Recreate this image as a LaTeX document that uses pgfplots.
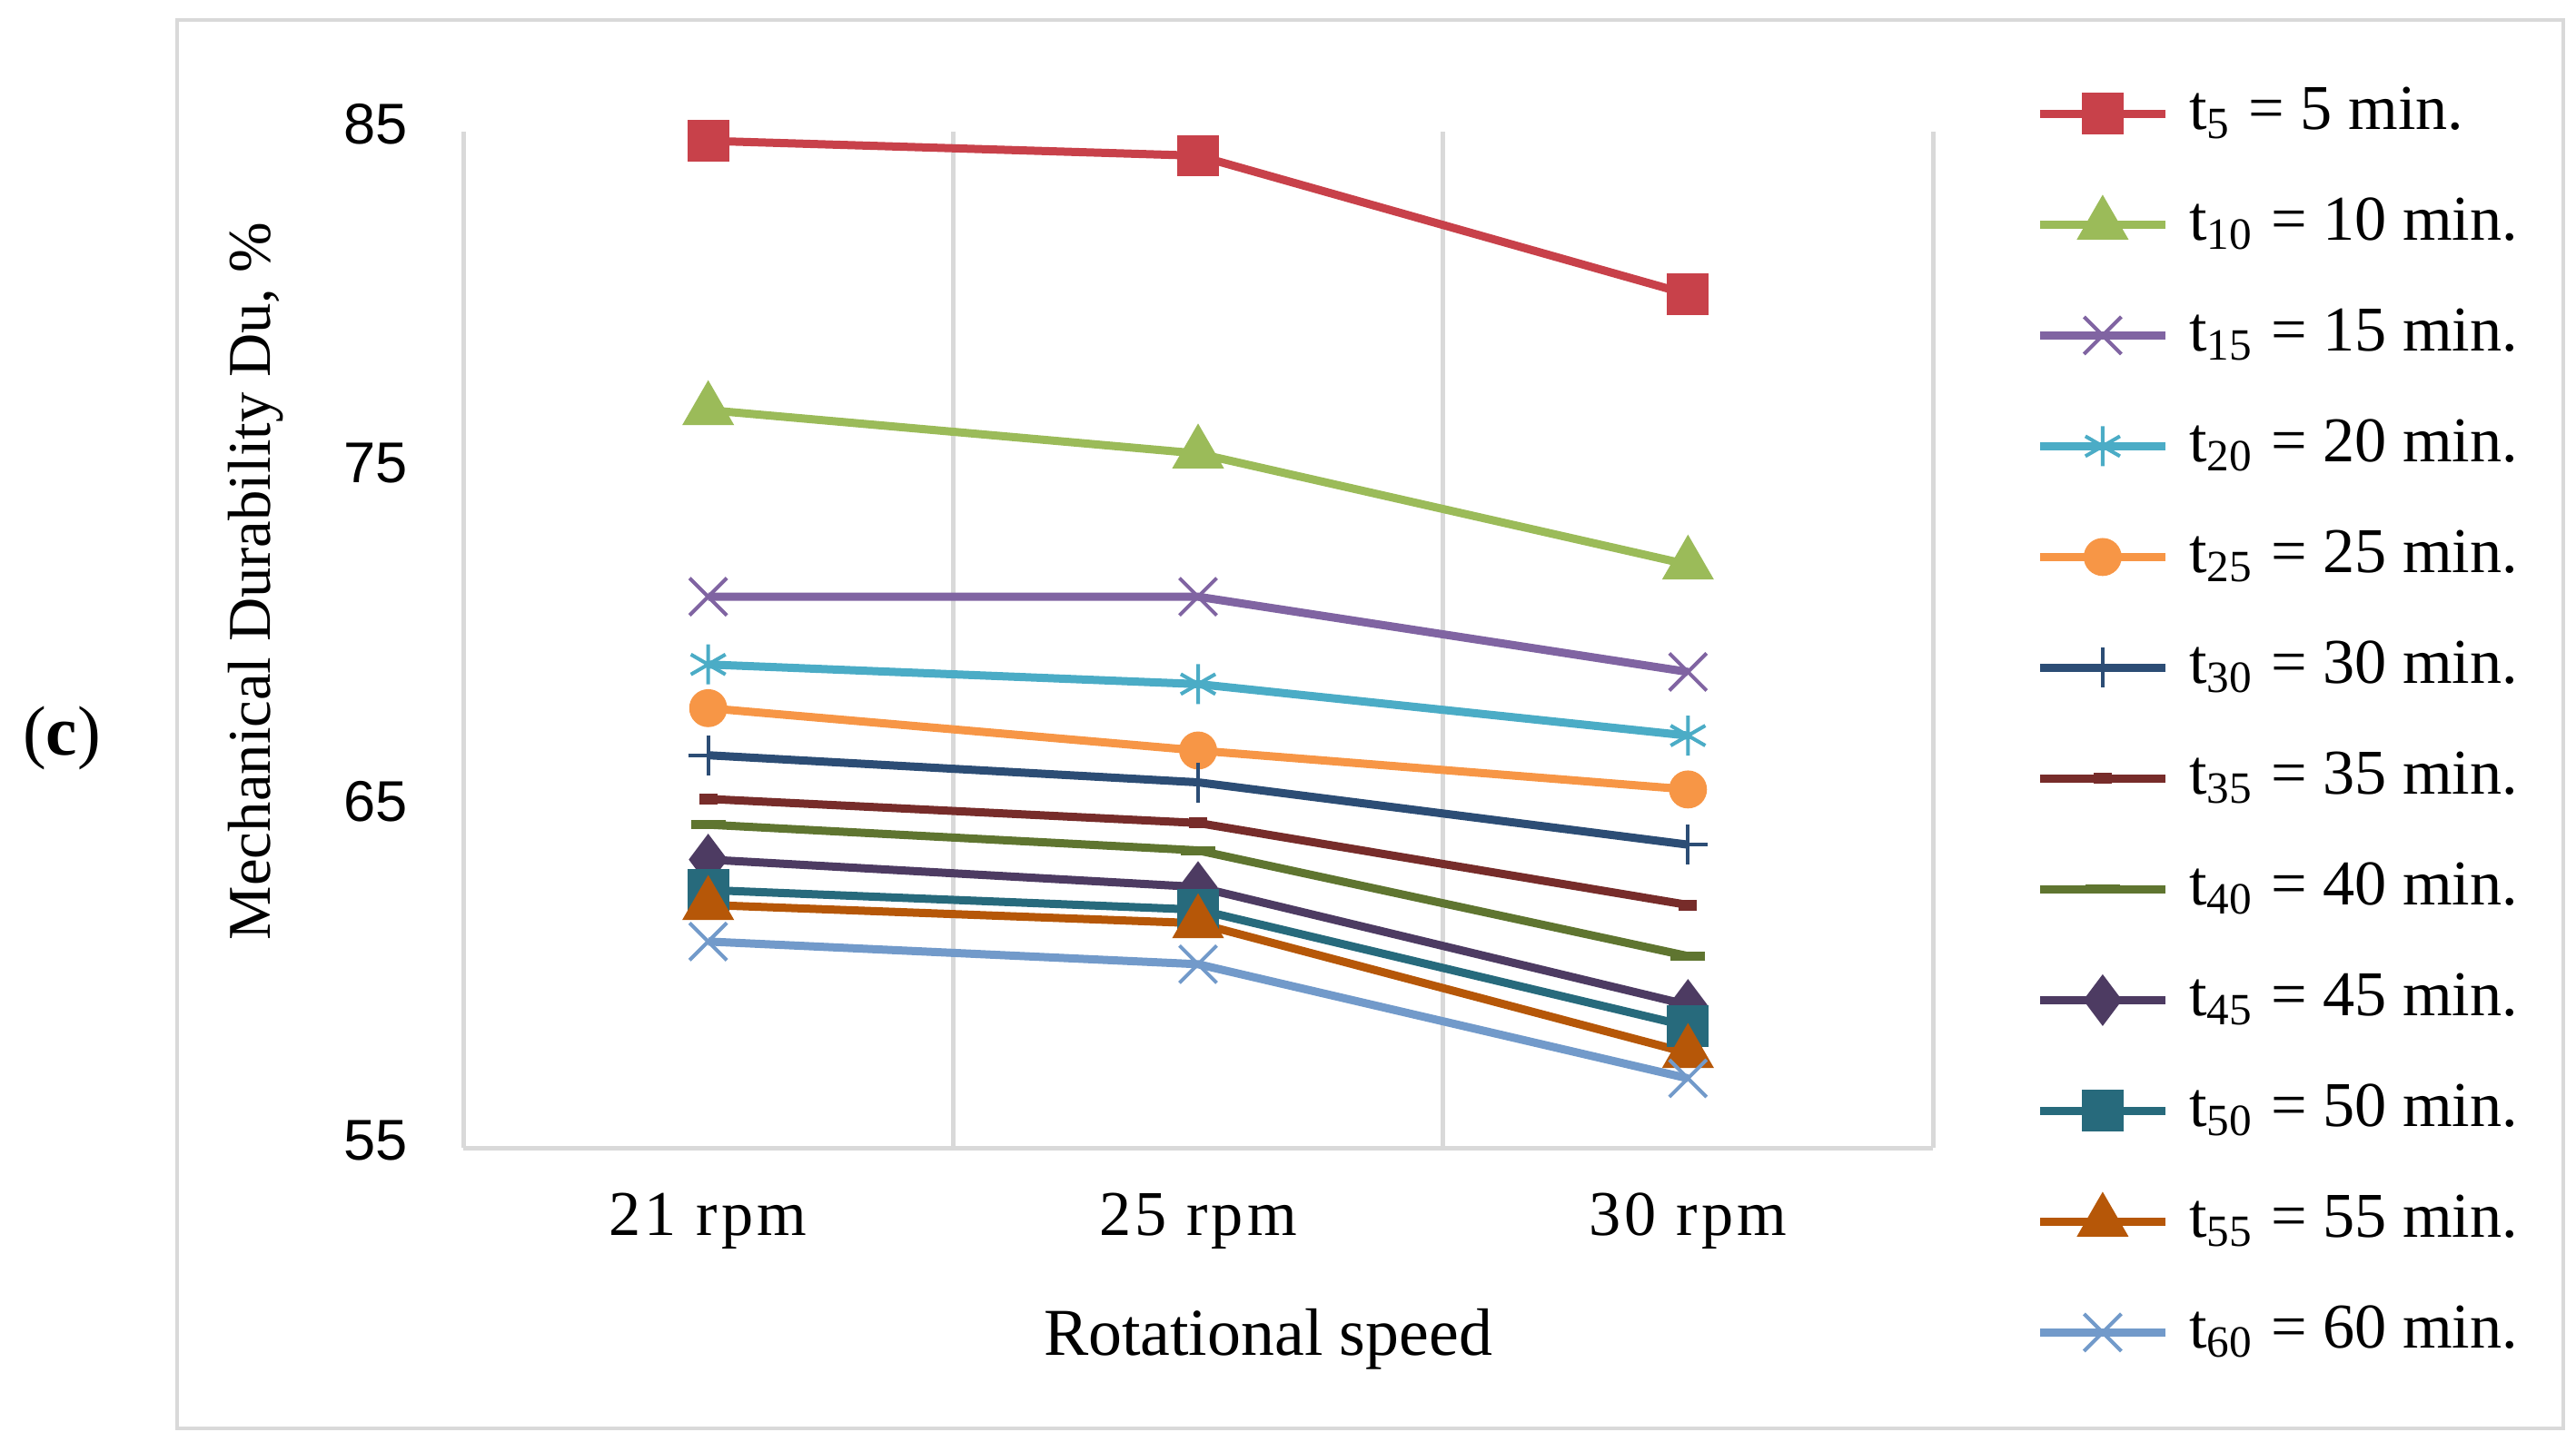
\documentclass[border=0pt]{standalone}
\usepackage{fontspec}
\setmainfont{Liberation Serif}
\setsansfont{Liberation Sans}
\usepackage{pgfplots}
\pgfplotsset{compat=1.18}

\definecolor{c05}{HTML}{C8414A}
\definecolor{c10}{HTML}{9BBB59}
\definecolor{c15}{HTML}{8064A2}
\definecolor{c20}{HTML}{4BACC6}
\definecolor{c25}{HTML}{F79646}
\definecolor{c30}{HTML}{2C4D75}
\definecolor{c35}{HTML}{772C2A}
\definecolor{c40}{HTML}{5F7530}
\definecolor{c45}{HTML}{4D3B62}
\definecolor{c50}{HTML}{276A7C}
\definecolor{c55}{HTML}{B65708}
\definecolor{c60}{HTML}{729ACA}
\definecolor{gridgray}{HTML}{D9D9D9}

\pgfplotsset{
  ser/.style={line width=0.45mm, mark options={solid}},
  thinmark/.style={mark options={solid, line width=0.2mm}},
}

\begin{document}
\begin{tikzpicture}
  \path[use as bounding box] (0,0) rectangle (141.8mm,79.35mm);
  \draw[gridgray, line width=0.2mm] (9.75mm,0.7mm) rectangle (141.1mm,78.25mm);
  \node[font=\fontsize{11}{13}\selectfont] at (3.4mm,38.7mm) {(\textbf{c})};

  \begin{axis}[
    at={(25.5mm,16.15mm)}, anchor=south west,
    width=80.9mm, height=55.95mm, scale only axis,
    xmin=-0.5, xmax=2.5,
    ymin=55, ymax=85,
    ytick={55,65,75,85},
    xtick={0,1,2},
    xticklabels={21 rpm,25 rpm,30 rpm},
    major tick length=0pt,
    axis lines*=left,
    axis line style={gridgray, line width=0.25mm},
    extra x ticks={0.5,1.5,2.5},
    extra x tick labels={},
    extra x tick style={grid=major, major grid style={gridgray, line width=0.25mm}},
    clip=false,
    /pgf/number format/assume math mode=true,
    yticklabel style={font=\sffamily\fontsize{9}{10}\selectfont, inner sep=0pt, xshift=-3mm, yshift=0.4mm},
    xticklabel style={font=\addfontfeature{LetterSpace=6}\fontsize{10}{12}\selectfont, inner sep=0pt, anchor=center, yshift=-4.05mm},
    xlabel={Rotational speed},
    ylabel={Mechanical Durability Du, \%},
    xlabel style={font=\fontsize{10.5}{12}\selectfont, at={(axis description cs:0.5476,-0.1886)}, anchor=center},
    ylabel style={font=\fontsize{9.5}{11}\selectfont, at={(axis description cs:-0.1409,0.5576)}, anchor=center},
    legend image code/.code={\draw[mark repeat=2,mark phase=2,#1] plot coordinates {(0mm,0mm) (3.45mm,0mm) (6.9mm,0mm)};},
    legend cell align=left,
    legend style={
      at={(axis description cs:1.0692,1.0483)}, anchor=north west,
      draw=none, fill=none, inner sep=0pt,
      row sep=2.8mm, column sep=1.1mm,
      font=\fontsize{10}{12}\selectfont,
      nodes={inner sep=0pt, text height=2.5mm, text depth=0.8mm},
    },
  ]
    \addplot[ser, c05, mark=square*, mark size=0.92mm] coordinates {(0,84.73) (1,84.29) (2,80.20)};
    \addlegendentry{t\textsubscript{5} = 5 min.}
    \addplot[ser, c10, mark=triangle*, mark size=1.2mm] coordinates {(0,76.78) (1,75.50) (2,72.22)};
    \addlegendentry{t\textsubscript{10} = 10 min.}
    \addplot[ser, thinmark, c15, mark=x, mark size=1.45mm] coordinates {(0,71.27) (1,71.27) (2,69.05)};
    \addlegendentry{t\textsubscript{15} = 15 min.}
    \addplot[ser, thinmark, c20, mark=asterisk, mark size=1.1mm] coordinates {(0,69.27) (1,68.69) (2,67.17)};
    \addlegendentry{t\textsubscript{20} = 20 min.}
    \addplot[ser, c25, mark=*, mark size=0.82mm] coordinates {(0,67.98) (1,66.73) (2,65.58)};
    \addlegendentry{t\textsubscript{25} = 25 min.}
    \addplot[ser, thinmark, c30, mark=+, mark size=1.1mm] coordinates {(0,66.59) (1,65.79) (2,63.95)};
    \addlegendentry{t\textsubscript{30} = 30 min.}
    \addplot[ser, c35, mark=-, mark size=0.5mm, mark options={solid, line width=0.6mm}] coordinates {(0,65.30) (1,64.59) (2,62.17)};
    \addlegendentry{t\textsubscript{35} = 35 min.}
    \addplot[ser, c40, mark=-, mark size=0.95mm, mark options={solid, line width=0.5mm}] coordinates {(0,64.54) (1,63.78) (2,60.66)};
    \addlegendentry{t\textsubscript{40} = 40 min.}
    \addplot[ser, c45, mark=diamond*, mark size=1.05mm] coordinates {(0,63.51) (1,62.70) (2,59.22)};
    \addlegendentry{t\textsubscript{45} = 45 min.}
    \addplot[ser, c50, mark=square*, mark size=0.92mm] coordinates {(0,62.61) (1,62.03) (2,58.59)};
    \addlegendentry{t\textsubscript{50} = 50 min.}
    \addplot[ser, c55, mark=triangle*, mark size=1.2mm] coordinates {(0,62.17) (1,61.63) (2,57.80)};
    \addlegendentry{t\textsubscript{55} = 55 min.}
    \addplot[ser, thinmark, c60, mark=x, mark size=1.45mm] coordinates {(0,61.09) (1,60.42) (2,57.05)};
    \addlegendentry{t\textsubscript{60} = 60 min.}
  \end{axis}
\end{tikzpicture}
\end{document}
